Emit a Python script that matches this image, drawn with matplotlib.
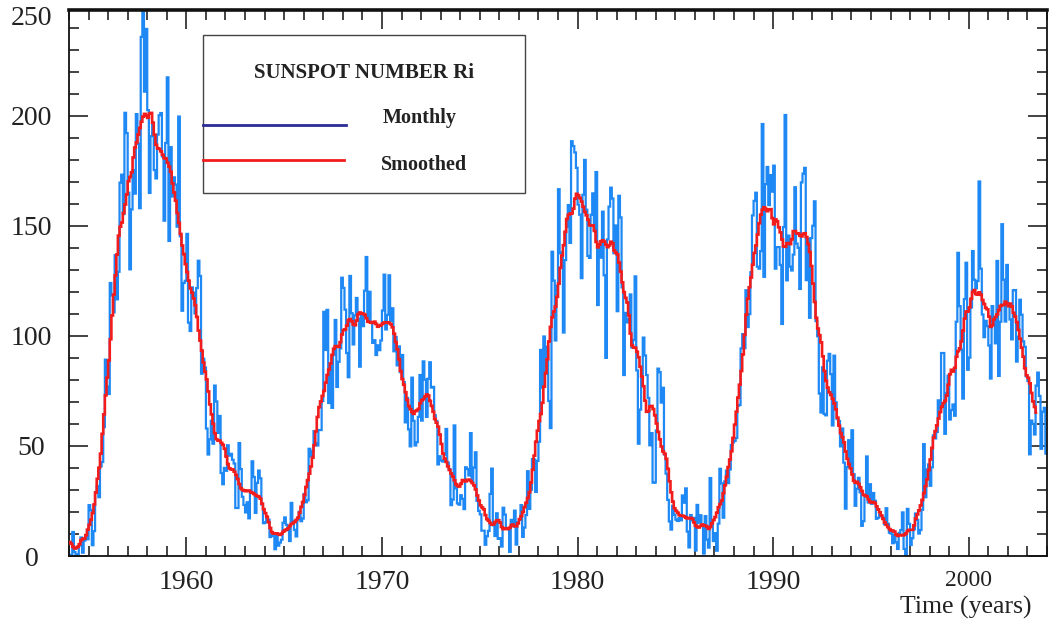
import numpy as np
import matplotlib
matplotlib.use("Agg")
import matplotlib.pyplot as plt
from matplotlib.lines import Line2D
from matplotlib.patches import Rectangle

# International sunspot number Ri, monthly means (start July 1953)
monthly_1953 = [8.6, 23.5, 19.3, 8.2, 1.6, 2.5]
monthly_1950s = [
    0.2, 0.5, 10.9, 1.8, 0.8, 0.2, 4.8, 8.4, 1.5, 7.0, 9.2, 7.6,
    23.1, 20.8, 4.9, 11.3, 28.9, 31.7, 26.7, 40.7, 42.7, 58.5, 89.2, 76.9,
    73.6, 124.0, 118.4, 110.7, 136.6, 116.6, 129.1, 169.6, 173.2, 155.3, 201.3, 192.1,
    165.0, 130.2, 157.4, 175.2, 164.6, 200.7, 187.2, 158.0, 235.8, 253.8, 210.9, 239.4,
    202.5, 164.9, 190.7, 196.0, 175.3, 171.5, 191.4, 200.2, 201.2, 181.5, 152.3, 187.6,
    217.4, 143.1, 185.7, 163.3, 172.0, 168.7, 149.6, 199.6, 145.2, 111.4, 124.0, 125.0,
]
monthly_1960s = [
    146.3, 106.0, 102.2, 122.0, 119.6, 110.2, 121.7, 134.1, 127.2, 82.8, 89.6, 85.6,
    57.9, 46.1, 53.0, 61.4, 51.0, 77.4, 70.2, 55.9, 63.6, 37.7, 32.6, 40.0,
    38.7, 50.3, 45.6, 46.4, 43.7, 42.0, 21.8, 21.8, 51.3, 39.5, 26.9, 23.2,
    19.8, 24.4, 17.1, 29.3, 43.0, 35.9, 19.6, 33.2, 38.8, 35.3, 23.4, 14.9,
    15.3, 17.7, 16.5, 8.6, 9.5, 9.1, 3.1, 9.3, 4.7, 6.1, 7.4, 15.1,
    17.5, 14.2, 11.7, 6.8, 24.1, 15.9, 11.9, 8.9, 16.8, 20.1, 15.8, 17.0,
    28.2, 24.4, 25.3, 48.7, 45.3, 47.7, 56.7, 51.2, 50.2, 57.2, 57.2, 70.4,
    110.9, 93.6, 111.8, 69.5, 86.5, 67.3, 91.5, 107.2, 76.8, 88.2, 94.3, 126.4,
    121.8, 111.9, 92.2, 81.2, 127.2, 110.3, 96.1, 109.3, 117.2, 107.7, 86.0, 109.8,
    104.4, 120.5, 135.8, 106.8, 120.0, 106.0, 96.8, 98.0, 91.3, 95.7, 93.5, 97.9,
]
monthly_1970s = [
    111.5, 127.8, 102.9, 109.5, 127.5, 106.8, 112.5, 93.0, 99.5, 86.6, 95.2, 83.5,
    91.3, 79.0, 60.7, 71.8, 57.5, 49.8, 81.0, 61.4, 50.2, 51.7, 63.2, 82.2,
    61.5, 88.4, 80.1, 63.2, 80.5, 88.0, 76.5, 76.8, 64.0, 61.3, 41.6, 45.3,
    43.4, 42.9, 46.0, 57.7, 42.4, 39.5, 23.1, 25.6, 59.3, 30.7, 23.9, 23.3,
    27.6, 26.0, 21.3, 40.3, 39.5, 36.6, 55.8, 33.6, 40.2, 47.1, 25.0, 20.5,
    18.9, 11.5, 11.5, 5.1, 9.0, 11.4, 28.2, 39.7, 13.9, 9.1, 19.4, 7.8,
    8.1, 4.3, 21.9, 18.8, 12.4, 12.2, 1.9, 16.4, 13.5, 20.6, 5.2, 15.3,
    16.4, 23.1, 8.7, 12.9, 18.6, 38.5, 21.4, 30.1, 44.0, 43.8, 29.1, 43.2,
    51.9, 93.6, 76.5, 99.7, 82.7, 95.1, 70.4, 58.1, 138.2, 125.1, 97.9, 122.7,
    166.6, 137.5, 138.0, 101.5, 134.4, 149.5, 159.4, 142.2, 188.4, 186.2, 183.3, 176.3,
]
monthly_1980s = [
    159.6, 155.0, 126.2, 164.1, 179.9, 157.3, 136.3, 135.4, 155.0, 164.7, 147.9, 174.4,
    114.0, 141.3, 135.5, 156.4, 127.5, 90.0, 143.8, 158.7, 167.3, 162.4, 137.5, 150.1,
    111.2, 163.6, 153.8, 122.0, 82.2, 110.4, 106.1, 107.6, 118.8, 94.7, 98.1, 127.0,
    84.3, 51.0, 66.5, 80.7, 99.2, 91.1, 82.2, 71.8, 50.3, 55.8, 33.3, 33.4,
    57.0, 85.1, 83.5, 69.7, 76.4, 46.1, 37.4, 25.5, 15.7, 12.0, 22.8, 18.7,
    16.5, 15.9, 17.2, 16.2, 27.5, 24.2, 30.7, 11.1, 3.9, 18.6, 16.2, 17.3,
    2.5, 23.2, 15.1, 18.5, 13.7, 1.1, 18.1, 7.4, 3.8, 35.4, 15.2, 6.8,
    10.4, 2.4, 14.7, 39.6, 33.0, 17.4, 33.9, 38.8, 33.1, 39.3, 50.4, 51.6,
    52.3, 53.6, 68.3, 68.6, 94.3, 100.8, 94.4, 120.7, 104.0, 109.9, 128.9, 154.7,
    161.3, 165.0, 131.4, 130.5, 138.5, 196.2, 126.8, 168.9, 176.7, 159.4, 173.0, 165.5,
]
monthly_1990s = [
    177.3, 130.5, 140.3, 140.3, 132.2, 105.4, 149.4, 200.3, 125.2, 145.5, 131.4, 129.7,
    136.9, 167.5, 141.9, 140.0, 121.3, 169.7, 173.7, 176.3, 125.3, 144.1, 108.2, 144.4,
    150.0, 161.1, 106.7, 99.8, 73.8, 65.2, 85.7, 64.5, 63.9, 88.7, 91.8, 82.6,
    59.3, 91.0, 69.8, 62.2, 61.3, 49.8, 57.9, 42.4, 21.5, 40.4, 52.6, 40.6,
    57.1, 37.1, 22.8, 30.5, 35.5, 28.9, 13.7, 15.8, 27.4, 45.2, 24.3, 32.6,
    23.7, 28.6, 25.1, 16.9, 17.4, 18.8, 18.1, 17.3, 14.4, 21.7, 14.6, 10.6,
    10.2, 5.8, 9.6, 6.2, 3.2, 10.5, 11.8, 19.8, 3.2, 0.4, 21.4, 14.6,
    5.0, 8.1, 12.1, 19.3, 16.4, 10.2, 11.8, 21.0, 50.8, 26.7, 39.3, 41.6,
    31.9, 40.3, 54.8, 53.4, 56.3, 70.7, 66.6, 92.2, 92.2, 55.5, 74.0, 81.9,
    62.0, 66.3, 68.8, 63.7, 106.4, 137.7, 113.5, 93.7, 71.5, 116.7, 133.2, 84.6,
]
monthly_2000s = [
    90.1, 112.9, 138.5, 125.5, 121.6, 124.9, 170.1, 130.5, 109.7, 99.4, 106.8, 104.4,
    95.6, 80.6, 113.5, 107.7, 96.6, 134.0, 81.8, 106.4, 150.7, 125.5, 106.5, 132.2,
    114.1, 107.4, 98.4, 120.7, 120.8, 88.3, 99.6, 116.4, 109.6, 97.5, 95.0, 81.6,
    79.5, 46.2, 61.5, 60.0, 55.2, 77.4, 83.3, 72.7, 48.7, 65.5, 67.3, 46.5,
]
start_year = 1953.5

x_ticks = [1960, 1970, 1980, 1990, 2000]
y_ticks = [0, 50, 100, 150, 200]

ri = np.array(monthly_1953 + monthly_1950s + monthly_1960s + monthly_1970s
              + monthly_1980s + monthly_1990s + monthly_2000s)
edges = start_year + np.arange(len(ri) + 1) / 12.0

# 13-month running mean, half weight on the end months
weights = np.r_[0.5, np.ones(11), 0.5] / 12.0
smooth = np.convolve(ri, weights, mode="valid")
smooth_edges = edges[6:6 + len(smooth) + 1]

plt.rcParams["font.family"] = ["Liberation Serif", "DejaVu Serif"]

fig = plt.figure(figsize=(10.53, 6.23), dpi=100)
ax = fig.add_axes([69 / 1053, 1 - 556 / 623, 978 / 1053, 546 / 623])

ax.stairs(ri, edges, color="#1E88F5", lw=1.6, baseline=None, zorder=2)
ax.stairs(smooth, smooth_edges, color="#F21C1C", lw=1.9, baseline=None, zorder=3)

ax.set_xlim(1954, 2004)
ax.set_ylim(0, 248)
ax.set_xticks(x_ticks)
ax.set_xticks(np.arange(1954, 2005, 1), minor=True)
ax.set_yticks(y_ticks)
ax.set_yticks(np.arange(0, 248, 10), minor=True)

ax.tick_params(which="both", direction="in", top=True, right=True,
               colors="#111111", labelcolor="#222222", width=1.1)
ax.tick_params(which="major", length=14)
ax.tick_params(which="minor", length=7.5)
ax.tick_params(axis="x", labelsize=20, pad=10)
ax.tick_params(axis="y", labelsize=20, pad=27)
for lab in ax.get_yticklabels():
    lab.set_horizontalalignment("center")
ax.get_xticklabels()[-1].set_fontsize(17)

# top value of the scale sits just under the frame
ax.annotate("250", xy=(0, 248), xycoords=("axes fraction", "data"),
            xytext=(-27, -6), textcoords="offset points",
            ha="center", va="center", fontsize=20, color="#222222")

for side in ["left", "right", "bottom"]:
    ax.spines[side].set_linewidth(1.3)
    ax.spines[side].set_color("#111111")
ax.spines["top"].set_linewidth(2.6)
ax.spines["top"].set_color("#111111")

fig.text(966 / 1053, 1 - 607 / 623, "Time (years)", ha="center", va="center",
         fontsize=18.5, color="#222222")

# legend box
def fx(px):
    return px / 1053


def fy(py):
    return 1 - py / 623


fig.add_artist(Rectangle((fx(203), fy(193)), fx(525) - fx(203), fy(35) - fy(193),
                         transform=fig.transFigure, facecolor="white",
                         edgecolor="#444444", lw=1.0, zorder=5))
fig.text(fx(364), fy(73), "SUNSPOT NUMBER Ri", ha="center", va="center",
         fontsize=15, fontweight="bold", color="#222222", zorder=6)
fig.add_artist(Line2D([fx(203), fx(346)], [fy(125), fy(125)], color="#2B2B95",
                      lw=2.0, transform=fig.transFigure, zorder=6))
fig.text(fx(420), fy(118), "Monthly", ha="center", va="center",
         fontsize=14.5, fontweight="bold", color="#222222", zorder=6)
fig.add_artist(Line2D([fx(203), fx(344)], [fy(160), fy(160)], color="#F21C1C",
                      lw=2.0, transform=fig.transFigure, zorder=6))
fig.text(fx(424), fy(165), "Smoothed", ha="center", va="center",
         fontsize=14.5, fontweight="bold", color="#222222", zorder=6)

fig.savefig("out.png", dpi=100)
